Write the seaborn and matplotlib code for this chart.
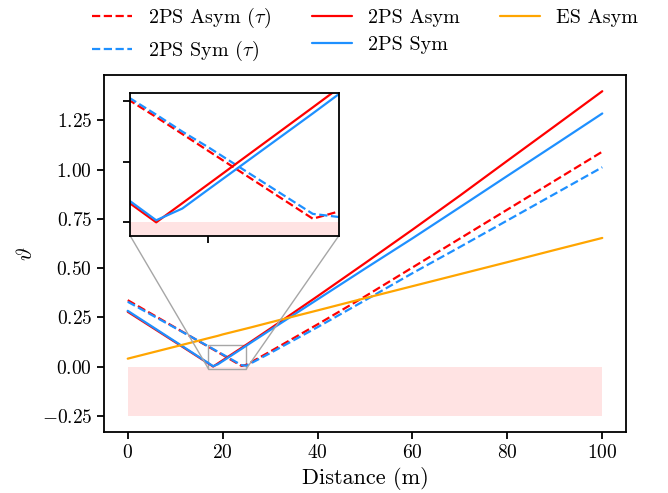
import matplotlib
matplotlib.use("Agg")
import matplotlib.pyplot as plt
import matplotlib.ticker as mticker
import pandas as pd
import seaborn as sns
from mpl_toolkits.axes_grid1.inset_locator import mark_inset

# Sampled distances (m) and the resulting vartheta for each scheme
distance = [0, 10, 17, 18, 19, 20, 24, 25, 26, 30, 40, 50, 60, 70, 80, 90, 100]
asym_tau = [0.337, 0.198, 0.1005, 0.087, 0.073, 0.059, 0.003, 0.009, 0.022,
            0.076, 0.214, 0.356, 0.503, 0.650, 0.797, 0.944, 1.091]
sym_tau = [0.329, 0.196, 0.1025, 0.089, 0.075, 0.062, 0.007, 0.0044, 0.017,
           0.068, 0.200, 0.336, 0.474, 0.607, 0.742, 0.877, 1.012]
asym = [0.278, 0.124, 0.0156, 0.0, 0.0158, 0.0316, 0.095, 0.111, 0.127,
        0.192, 0.357, 0.525, 0.695, 0.868, 1.045, 1.221, 1.398]
sym = [0.283, 0.127, 0.0175, 0.0017, 0.0114, 0.0272, 0.090, 0.106, 0.122,
       0.185, 0.341, 0.497, 0.651, 0.809, 0.968, 1.126, 1.285]
es_asym = [0.040, 0.101, 0.144, 0.150, 0.156, 0.163, 0.187, 0.193, 0.199,
           0.224, 0.285, 0.347, 0.408, 0.469, 0.530, 0.592, 0.653]

series_names = ["2PS Asym ($\\tau$)", "2PS Sym ($\\tau$)", "2PS Asym", "2PS Sym", "ES Asym"]
series_values = [asym_tau, sym_tau, asym, sym, es_asym]
series_colors = ["red", "dodgerblue", "red", "dodgerblue", "orange"]
series_styles = ["--", "--", "-", "-", "-"]

# infeasible band below zero
band_x = [0, 100]
band_low = -0.25
band_high = 0.0

y_ticks = [-0.25, 0.0, 0.25, 0.5, 0.75, 1.0, 1.25]
x_ticks = [0, 20, 40, 60, 80, 100]

df = pd.DataFrame({
    "Distance": distance * len(series_names),
    "value": sum(series_values, []),
    "scheme": [n for n in series_names for _ in distance],
})

sns.set_theme(style="ticks")
plt.rcParams.update({
    "font.family": ["cmr10"],
    "mathtext.fontset": "cm",
    "axes.formatter.use_mathtext": True,
    "axes.edgecolor": "black",
    "axes.linewidth": 1.3,
    "xtick.color": "black",
    "ytick.color": "black",
    "xtick.major.width": 1.3,
    "ytick.major.width": 1.3,
    "xtick.major.size": 5,
    "ytick.major.size": 5,
    "xtick.labelsize": 14,
    "ytick.labelsize": 14,
    "axes.labelsize": 16,
    "legend.fontsize": 14.5,
    "text.color": "black",
    "axes.labelcolor": "black",
})

fig = plt.figure(figsize=(6.68, 4.93), dpi=100)
ax = fig.add_axes([104 / 668, 61 / 493, 522 / 668, 357 / 493])


def draw(target, with_labels):
    target.fill_between(band_x, band_low, band_high, color="red", alpha=0.11, lw=0)
    for name, color, style in zip(series_names, series_colors, series_styles):
        sub = df[df["scheme"] == name]
        sns.lineplot(data=sub, x="Distance", y="value", ax=target, color=color,
                     linestyle=style, linewidth=1.6, legend=False,
                     label=name if with_labels else None)


draw(ax, True)
ax.set_yticks(y_ticks)
ax.yaxis.set_major_formatter(mticker.FuncFormatter(lambda v, _: f"${v:.2f}$"))
ax.set_xticks(x_ticks)
ax.set_xlabel("Distance (m)")
ax.set_ylabel("$\\vartheta$", labelpad=4)

# zoomed view around the minima
axins = ax.inset_axes([0.05, 0.55, 0.4, 0.4])
draw(axins, False)
axins.set_xlim(17, 25)
axins.set_ylim(-0.011, 0.107)
axins.set_xticks([20])
axins.set_yticks([0.0, 0.05, 0.1])
axins.set_xticklabels([])
axins.set_yticklabels([])
axins.set_xlabel("")
axins.set_ylabel("")
mark_inset(ax, axins, loc1=3, loc2=4, fc="none", ec="0.65", lw=1.0)

handles, labels = ax.get_legend_handles_labels()
ax.legend(handles, labels, loc="lower center", bbox_to_anchor=(0.5, 0.983),
          ncol=3, frameon=False, labelspacing=0.45)

fig.savefig("out.png", dpi=100)
